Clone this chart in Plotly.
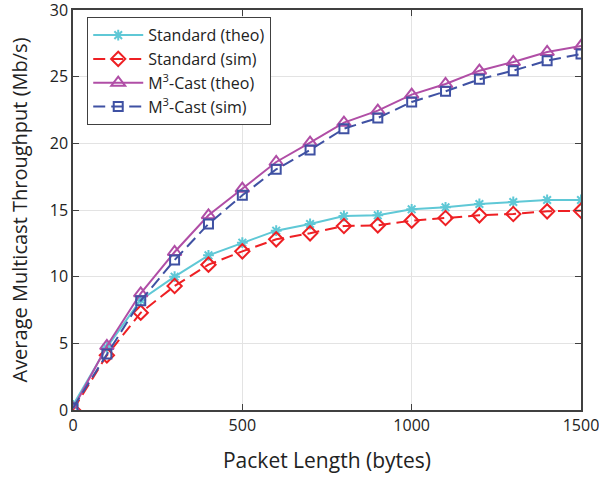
import plotly.graph_objects as go

# Packet lengths (bytes)
packet_len = [0, 100, 200, 300, 400, 500, 600, 700, 800, 900, 1000, 1100, 1200, 1300, 1400, 1500]

# Average multicast throughput (Mb/s)
std_theo = [0.35, 4.7, 8.25, 10.0, 11.6, 12.55, 13.45, 13.95, 14.55, 14.6, 15.05, 15.2, 15.45, 15.6, 15.75, 15.75]
std_sim = [0.0, 4.1, 7.3, 9.3, 10.9, 11.9, 12.8, 13.25, 13.8, 13.85, 14.2, 14.4, 14.6, 14.7, 14.9, 14.95]
m3_theo = [0.1, 4.8, 8.75, 11.85, 14.6, 16.6, 18.6, 20.05, 21.55, 22.45, 23.65, 24.45, 25.45, 26.1, 26.85, 27.3]
m3_sim = [0.15, 4.2, 8.2, 11.25, 13.95, 16.1, 18.05, 19.5, 21.1, 21.9, 23.1, 23.9, 24.8, 25.45, 26.2, 26.7]

x_ticks = [0, 500, 1000, 1500]
y_ticks = [0, 5, 10, 15, 20, 25, 30]

FONT = "Open Sans"
AXIS_COLOR = "#404040"

series = [
    ("Standard (theo)", std_theo, "#5FC8D6", "solid", "asterisk-open", 9),
    ("Standard (sim)", std_sim, "#EE2024", "12px,6px", "diamond-open", 11),
    ("M<sup>3</sup>-Cast (theo)", m3_theo, "#B04EA6", "solid", "triangle-up-open", 12),
    ("M<sup>3</sup>-Cast (sim)", m3_sim, "#3F51A3", "12px,6px", "square-open", 9),
]

fig = go.Figure()
for name, ys, color, dash, symbol, size in series:
    fig.add_trace(go.Scatter(
        x=packet_len, y=ys, name=name, mode="lines+markers",
        line=dict(color=color, width=2, dash=dash),
        marker=dict(symbol=symbol, size=size, color=color,
                    line=dict(color=color, width=2)),
    ))

axis_common = dict(
    showline=True, linecolor=AXIS_COLOR, linewidth=1.5, mirror="ticks",
    ticks="inside", ticklen=6, tickcolor=AXIS_COLOR, tickwidth=1,
    showgrid=True, gridcolor="#E3E3E3", gridwidth=1, zeroline=False,
    tickfont=dict(family=FONT, size=16, color="#222222"),
    automargin=False, ticklabeloverflow="allow",
)

fig.update_layout(
    width=599, height=477,
    margin=dict(l=73, r=18, t=10, b=67),
    paper_bgcolor="white", plot_bgcolor="white",
    font=dict(family=FONT, color="#222222"),
    xaxis=dict(range=[0, 1500], tickvals=x_ticks,
               title=dict(text="Packet Length (bytes)", font=dict(family=FONT, size=21), standoff=18),
               **axis_common),
    yaxis=dict(range=[0, 30], tickvals=y_ticks,
               title=dict(text="Average Multicast Throughput (Mb/s)", font=dict(family=FONT, size=20), standoff=17),
               **axis_common),
    legend=dict(x=0.028, y=0.982, xanchor="left", yanchor="top",
                bgcolor="white", bordercolor=AXIS_COLOR, borderwidth=1,
                font=dict(family=FONT, size=16, color="#222222"),
                tracegroupgap=0, itemwidth=50),
    showlegend=True,
)

fig.write_html("out.html")
